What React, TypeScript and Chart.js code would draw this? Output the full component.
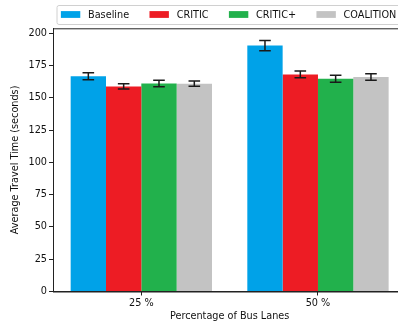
import React, { useEffect, useRef } from "react";
import { Chart, registerables } from "chart.js";

Chart.register(...registerables);

const categories = ["25 %", "50 %"];
const seriesNames = ["Baseline", "CRITIC", "CRITIC+", "COALITION"];
const seriesColors = ["#00a2e8", "#ed1c24", "#22b14c", "#c3c3c3"];
const baselineValues = [166.7, 190.5];
const criticValues = [158.9, 168.2];
const criticPlusValues = [161.2, 164.9];
const coalitionValues = [161.0, 166.1];
const baselineErrors = [2.7, 4.0];
const criticErrors = [2.0, 2.7];
const criticPlusErrors = [2.5, 2.7];
const coalitionErrors = [2.0, 2.5];
const yTicks = [0, 25, 50, 75, 100, 125, 150, 175, 200];

const FONT = "'DejaVu Sans', sans-serif";
const FS = 9.7;

const errorBarPlugin = {
  id: "errorBars",
  afterDatasetsDraw(chart: any) {
    const ctx = chart.ctx;
    const y = chart.scales.y;
    const errs = [baselineErrors, criticErrors, criticPlusErrors, coalitionErrors];
    ctx.save();
    ctx.strokeStyle = "#1a1a1a";
    ctx.lineWidth = 1.5;
    chart.data.datasets.forEach((ds: any, i: number) => {
      const meta = chart.getDatasetMeta(i);
      meta.data.forEach((bar: any, j: number) => {
        const v = ds.data[j];
        const e = errs[i][j];
        const x = bar.x;
        const y1 = y.getPixelForValue(v - e);
        const y2 = y.getPixelForValue(v + e);
        const cap = 5.8;
        ctx.beginPath();
        ctx.moveTo(x, y1);
        ctx.lineTo(x, y2);
        ctx.moveTo(x - cap, y1);
        ctx.lineTo(x + cap, y1);
        ctx.moveTo(x - cap, y2);
        ctx.lineTo(x + cap, y2);
        ctx.stroke();
      });
    });
    const a = chart.chartArea;
    ctx.strokeStyle = "#222";
    ctx.lineWidth = 1;
    ctx.strokeRect(a.left + 0.5, a.top + 0.5, a.right - a.left - 1, a.bottom - a.top);
    ctx.restore();
  },
};

const legendPlugin = {
  id: "mplLegend",
  afterDraw(chart: any) {
    const ctx = chart.ctx;
    ctx.save();
    ctx.font = `${FS}px ${FONT}`;
    const handleLen = 2.0 * FS;
    const handleH = 0.7 * FS;
    const textPad = 0.8 * FS;
    const colSpace = 2.1 * FS;
    const borderPad = 0.4 * FS;
    const widths = seriesNames.map((n) => ctx.measureText(n).width);
    let total = 0;
    widths.forEach((w, i) => {
      total += handleLen + textPad + w + (i < widths.length - 1 ? colSpace : 0);
    });
    const boxW = total + 2 * borderPad + 2 * (0.5 * FS);
    const left = 57;
    const top = 5.5;
    const bottom = 24.5;
    const r = 2;
    ctx.fillStyle = "rgba(255,255,255,0.8)";
    ctx.strokeStyle = "#d0d0d0";
    ctx.lineWidth = 1;
    ctx.beginPath();
    ctx.moveTo(left + r, top);
    ctx.lineTo(left + boxW - r, top);
    ctx.quadraticCurveTo(left + boxW, top, left + boxW, top + r);
    ctx.lineTo(left + boxW, bottom - r);
    ctx.quadraticCurveTo(left + boxW, bottom, left + boxW - r, bottom);
    ctx.lineTo(left + r, bottom);
    ctx.quadraticCurveTo(left, bottom, left, bottom - r);
    ctx.lineTo(left, top + r);
    ctx.quadraticCurveTo(left, top, left + r, top);
    ctx.closePath();
    ctx.fill();
    ctx.stroke();
    const cy = 14.5;
    let x = left + borderPad;
    ctx.textBaseline = "middle";
    ctx.textAlign = "left";
    seriesNames.forEach((n, i) => {
      ctx.fillStyle = seriesColors[i];
      ctx.fillRect(x, cy - handleH / 2, handleLen, handleH);
      x += handleLen + textPad;
      ctx.fillStyle = "#111";
      ctx.fillText(n, x, cy + 0.5);
      x += widths[i] + colSpace;
    });
    ctx.restore();
  },
};

export default function App() {
  const ref = useRef<HTMLCanvasElement | null>(null);
  useEffect(() => {
    if (!ref.current) return;
    const valueSets = [baselineValues, criticValues, criticPlusValues, coalitionValues];
    const chart = new Chart(ref.current, {
      type: "bar",
      data: {
        labels: categories,
        datasets: seriesNames.map((n, i) => ({
          label: n,
          data: valueSets[i],
          backgroundColor: seriesColors[i],
          borderWidth: 0,
          categoryPercentage: 0.8,
          barPercentage: 1.0,
        })),
      },
      options: {
        animation: false,
        responsive: false,
        maintainAspectRatio: false,
        layout: { padding: { top: 28.3, right: 13.7, left: 0, bottom: 0 } },
        plugins: {
          legend: { display: false },
          tooltip: { enabled: false },
        },
        scales: {
          x: {
            type: "category",
            offset: true,
            grid: {
              offset: false,
              drawOnChartArea: false,
              drawTicks: true,
              tickLength: 4,
              tickWidth: 1,
              tickColor: "#222",
            },
            border: { display: true, color: "#222", width: 1 },
            ticks: {
              color: "#111",
              font: { family: FONT, size: FS },
              padding: 2,
              maxRotation: 0,
            },
            title: {
              display: true,
              text: "Percentage of Bus Lanes",
              color: "#111",
              font: { family: FONT, size: FS },
              padding: { top: 0, bottom: 3.2 },
            },
            afterFit(scale: any) {
              scale.height = 33.5;
            },
          },
          y: {
            min: 0,
            max: 203.9,
            afterBuildTicks(scale: any) {
              scale.ticks = yTicks.map((v) => ({ value: v }));
            },
            grid: {
              drawOnChartArea: false,
              drawTicks: true,
              tickLength: 4,
              tickWidth: 1,
              tickColor: "#222",
            },
            border: { display: true, color: "#222", width: 1 },
            ticks: {
              color: "#111",
              font: { family: FONT, size: FS },
              padding: 2,
            },
            title: {
              display: true,
              text: "Average Travel Time (seconds)",
              color: "#111",
              font: { family: FONT, size: FS },
              padding: { top: 9.2, bottom: 0 },
            },
            afterFit(scale: any) {
              scale.width = 53;
            },
          },
        },
      },
      plugins: [errorBarPlugin, legendPlugin],
    });
    return () => chart.destroy();
  }, []);
  return (
    <div
      style={{
        position: "fixed",
        left: 0,
        top: 0,
        width: 398,
        height: 325,
        overflow: "hidden",
        background: "#fff",
      }}
    >
      <canvas ref={ref} width={420} height={325} style={{ width: 420, height: 325, display: "block" }} />
    </div>
  );
}
